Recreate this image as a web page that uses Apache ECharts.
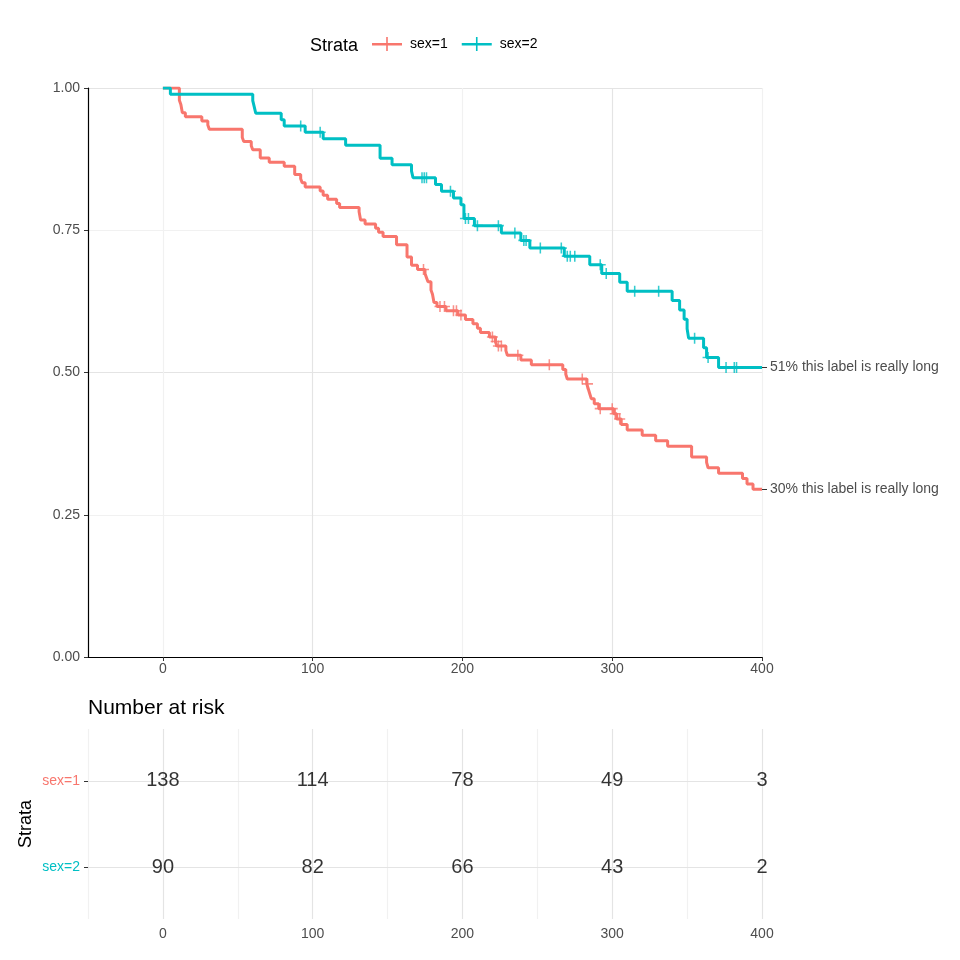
<!DOCTYPE html>
<html><head><meta charset="utf-8">
<script src="https://cdn.jsdelivr.net/npm/echarts@6/dist/echarts.min.js"></script>
<style>html,body{margin:0;padding:0;background:#fff}#c{width:960px;height:960px}</style>
</head><body><div id="c"></div>
<script>
// ---------- data ----------
const strataNames = ['sex=1', 'sex=2'];
const strataColors = ['#F8766D', '#00BFC4'];

const sex1Times = [0, 11, 12, 13, 15, 26, 30, 31, 53, 54, 59, 60, 65, 71, 81, 88, 92, 93, 95, 105, 107, 110, 116, 118, 131, 132, 135, 142, 144, 147, 156, 163, 166, 170, 175, 176, 177, 179, 180, 181, 183, 189, 197, 202, 207, 210, 212, 218, 222, 223, 229, 230, 239, 246, 267, 269, 270, 283, 284, 285, 286, 288, 291, 301, 303, 306, 310, 320, 329, 337, 353, 363, 364, 371, 387, 390, 394, 400];
const sex1Surv = [1, 0.9783, 0.9710, 0.9565, 0.9493, 0.9420, 0.9348, 0.9275, 0.9130, 0.9058, 0.8986, 0.8913, 0.8768, 0.8696, 0.8623, 0.8478, 0.8406, 0.8333, 0.8261, 0.8188, 0.8116, 0.8043, 0.7971, 0.7899, 0.7826, 0.7681, 0.7609, 0.7536, 0.7464, 0.7391, 0.7246, 0.7029, 0.6884, 0.6812, 0.6739, 0.6667, 0.6594, 0.6449, 0.6377, 0.6232, 0.6159, 0.6085, 0.6009, 0.5932, 0.5855, 0.5778, 0.5701, 0.5624, 0.5546, 0.5467, 0.5385, 0.5304, 0.5221, 0.5138, 0.5054, 0.4970, 0.4886, 0.4800, 0.4714, 0.4627, 0.4540, 0.4452, 0.4365, 0.4274, 0.4181, 0.4086, 0.3991, 0.3896, 0.3801, 0.3706, 0.3516, 0.3421, 0.3326, 0.3231, 0.3136, 0.3041, 0.2946, 0.2946];
const sex1Censor = [174, 185, 188, 194, 196, 199, 220, 222.5, 224, 226, 237, 258, 280, 283.5, 292, 300, 302, 305];

const sex2Times = [0, 5, 60, 61, 62, 79, 81, 95, 107, 122, 145, 153, 166, 167, 182, 186, 194, 199, 201, 208, 226, 239, 245, 268, 285, 293, 305, 310, 340, 345, 348, 350, 351, 361, 363, 371, 400];
const sex2Surv = [1, 0.9889, 0.9778, 0.9667, 0.9556, 0.9444, 0.9333, 0.9221, 0.9107, 0.8993, 0.8766, 0.8652, 0.8538, 0.8424, 0.8305, 0.8187, 0.8066, 0.7946, 0.7705, 0.7581, 0.7452, 0.7322, 0.7186, 0.7045, 0.6895, 0.6742, 0.6585, 0.6428, 0.6264, 0.6099, 0.5934, 0.5769, 0.5604, 0.5434, 0.5265, 0.5089, 0.5089];
const sex2Censor = [92, 105, 173, 174.5, 176, 192, 202, 204, 210, 224, 235, 241, 242.5, 252, 266, 270, 272, 275, 292, 296, 315, 331, 355, 364, 376, 381.5, 383];

const endLabels = ['30% this label is really long', '51% this label is really long'];

const xTickValues = [0, 100, 200, 300, 400];
const yTickValues = [0, 0.25, 0.5, 0.75, 1];

const riskTimes = [0, 100, 200, 300, 400];
const sex1Risk = [138, 114, 78, 49, 3];
const sex2Risk = [90, 82, 66, 43, 2];

// ---------- helpers ----------
function survAt(times, surv, t) {
  let s = surv[0];
  for (let i = 0; i < times.length; i++) { if (times[i] <= t) s = surv[i]; else break; }
  return s;
}
const curves = [
  { times: sex1Times, surv: sex1Surv, cens: sex1Censor, risk: sex1Risk },
  { times: sex2Times, surv: sex2Surv, cens: sex2Censor, risk: sex2Risk }
];
const endValues = curves.map(c => c.surv[c.surv.length - 1]);

const FONT = 'Liberation Sans, Arial, Helvetica, sans-serif';
const MAJOR = '#E4E4E4', MINOR = '#F1F1F1';
const plusPath = 'path://M0,4.3L10,4.3L10,5.7L0,5.7Z M4.3,0L5.7,0L5.7,10L4.3,10Z';
const legendIcon = 'path://M0,6L30,6L30,8.6L0,8.6Z M14.2,0L15.8,0L15.8,14L14.2,14Z';

const series = [];
curves.forEach((c, k) => {
  series.push({
    name: strataNames[k], type: 'line', xAxisIndex: 0, yAxisIndex: 0,
    step: 'end', showSymbol: false, symbol: 'none',
    data: c.times.map((t, i) => [t, c.surv[i]]),
    lineStyle: { width: 3, color: strataColors[k] },
    itemStyle: { color: strataColors[k] },
    z: 3, silent: true, animation: false
  });
  series.push({
    name: strataNames[k], type: 'scatter', xAxisIndex: 0, yAxisIndex: 0,
    symbol: plusPath, symbolSize: 11,
    data: c.cens.map(t => [t, survAt(c.times, c.surv, t)]),
    itemStyle: { color: strataColors[k] },
    z: 4, silent: true, animation: false
  });
});
// risk table gridlines (horizontal)
series.push({
  type: 'scatter', xAxisIndex: 1, yAxisIndex: 2, data: [], silent: true, z: 1,
  markLine: {
    silent: true, symbol: 'none', label: { show: false }, animation: false,
    lineStyle: { color: MAJOR, type: 'solid', width: 1.2 },
    data: [{ yAxis: 1 }, { yAxis: 2 }]
  }
});
curves.forEach((c, k) => {
  series.push({
    type: 'scatter', xAxisIndex: 1, yAxisIndex: 2, symbolSize: 0, silent: true, z: 5,
    data: riskTimes.map((t, i) => [t, k + 1, c.risk[i]]),
    label: {
      show: true, position: 'inside', formatter: p => String(p.value[2]),
      fontSize: 20, color: '#000', fontFamily: FONT
    },
    animation: false
  });
});

const option = {
  animation: false,
  backgroundColor: '#ffffff',
  textStyle: { fontFamily: FONT },
  title: [
    { text: 'Strata', left: 305, top: 32, textStyle: { fontSize: 18, fontWeight: 'normal', color: '#000', fontFamily: FONT } },
    { text: 'Number at risk', left: 83, top: 693, textStyle: { fontSize: 21, fontWeight: 'normal', color: '#000', fontFamily: FONT } }
  ],
  legend: {
    left: 372, top: 37, padding: 0, itemWidth: 30, itemHeight: 14, itemGap: 14,
    data: strataNames.map((n, k) => ({ name: n, icon: legendIcon, itemStyle: { color: strataColors[k] } })),
    textStyle: { fontSize: 14, color: '#000', padding: [0, 0, 0, 3], fontFamily: FONT },
    selectedMode: false
  },
  grid: [
    { left: 88, right: 198, top: 88, bottom: 303, containLabel: false },
    { left: 88, right: 198, top: 729, bottom: 41, containLabel: false }
  ],
  xAxis: [
    {
      gridIndex: 0, type: 'value', min: -50, max: 400, interval: 50,
      axisLine: { show: true, onZero: false, lineStyle: { color: '#000', width: 1.2 } },
      axisTick: { show: true, customValues: xTickValues, length: 4, lineStyle: { color: '#333' } },
      axisLabel: { customValues: xTickValues, fontSize: 14, color: '#4D4D4D', margin: 5, fontFamily: FONT },
      splitLine: { show: true, lineStyle: { color: [MINOR, MAJOR], width: 1.2 } }
    },
    {
      gridIndex: 1, type: 'value', min: -50, max: 400, interval: 50,
      axisLine: { show: false, onZero: false },
      axisTick: { show: false },
      axisLabel: { customValues: xTickValues, fontSize: 14, color: '#4D4D4D', margin: 8, fontFamily: FONT },
      splitLine: { show: true, lineStyle: { color: [MINOR, MAJOR], width: 1.2 } }
    }
  ],
  yAxis: [
    {
      gridIndex: 0, type: 'value', min: 0, max: 1, interval: 0.125,
      axisLine: { show: true, onZero: false, lineStyle: { color: '#000', width: 1.2 } },
      axisTick: { show: true, customValues: yTickValues, length: 4, lineStyle: { color: '#333' } },
      axisLabel: { customValues: yTickValues, formatter: v => v.toFixed(2), fontSize: 14, color: '#4D4D4D', margin: 8, fontFamily: FONT },
      splitLine: { show: true, lineStyle: { color: [MAJOR, MINOR], width: 1.2 } }
    },
    {
      gridIndex: 0, type: 'value', min: 0, max: 1, position: 'right',
      axisLine: { show: false, onZero: false },
      axisTick: { show: true, customValues: endValues, length: 5, lineStyle: { color: '#333' } },
      axisLabel: {
        customValues: endValues, fontSize: 14, color: '#4D4D4D', margin: 8, fontFamily: FONT,
        formatter: v => { let best = 0; endValues.forEach((e, i) => { if (Math.abs(e - v) < Math.abs(endValues[best] - v)) best = i; }); return endLabels[best]; }
      },
      splitLine: { show: false }
    },
    {
      gridIndex: 1, type: 'value', min: 0.4, max: 2.6, inverse: true,
      name: 'Strata', nameLocation: 'middle', nameRotate: 90, nameGap: 53, nameMoveOverlap: false,
      nameTextStyle: { fontSize: 18, color: '#000', fontFamily: FONT },
      axisLine: { show: false, onZero: false },
      axisTick: { show: true, customValues: [1, 2], length: 4, lineStyle: { color: '#333' } },
      axisLabel: {
        customValues: [1, 2], fontSize: 14, margin: 8, fontFamily: FONT,
        formatter: v => (v < 1.5 ? '{a|' + strataNames[0] + '}' : '{b|' + strataNames[1] + '}'),
        rich: { a: { color: strataColors[0], fontSize: 14, fontFamily: FONT }, b: { color: strataColors[1], fontSize: 14, fontFamily: FONT } }
      },
      splitLine: { show: false }
    }
  ],
  series: series
};
const chart = echarts.init(document.getElementById('c'), null, { renderer: 'canvas' });
chart.setOption(option);
</script>
</body></html>
